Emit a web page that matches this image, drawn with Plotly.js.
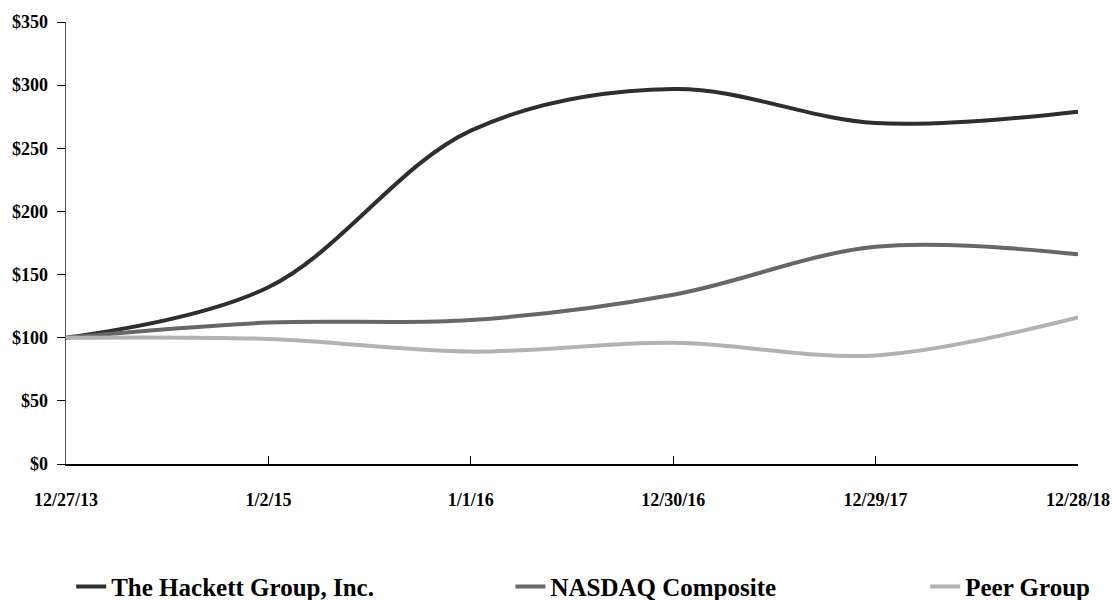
<!DOCTYPE html>
<html>
<head>
<meta charset="utf-8">
<script src="https://cdn.plot.ly/plotly-3.0.1.min.js"></script>
<style>
html,body{margin:0;padding:0;background:#fff;}
#chart{width:1112px;height:600px;}
</style>
</head>
<body>
<div id="chart"></div>
<script>
const dates = ["12/27/13", "1/2/15", "1/1/16", "12/30/16", "12/29/17", "12/28/18"];
const hackett = [100, 140, 264, 297, 270, 279];
const nasdaq = [100, 112, 114, 134, 172, 166];
const peer = [100, 99, 89, 96, 86, 116];
const seriesNames = ["The Hackett Group, Inc.", "NASDAQ Composite", "Peer Group"];
const yTicks = [0, 50, 100, 150, 200, 250, 300, 350];
const yTickLabels = ["$0", "$50", "$100", "$150", "$200", "$250", "$300", "$350"];

const FONT = "Liberation Serif, Times New Roman, serif";

function line(y, name, color, legendId) {
  return {
    x: dates, y: y, name: name, type: "scatter", mode: "lines",
    line: {color: color, width: 4, shape: "spline", smoothing: 1},
    legend: legendId, hoverinfo: "skip"
  };
}

const traces = [
  line(hackett, seriesNames[0], "#2e2e2e", "legend"),
  line(nasdaq, seriesNames[1], "#676767", "legend2"),
  line(peer, seriesNames[2], "#b2b2b2", "legend3")
];

function leg(x) {
  return {
    orientation: "h", xref: "container", yref: "container",
    x: x, xanchor: "left", y: 0.022, yanchor: "middle",
    font: {family: FONT, size: 25, color: "#000", weight: "bold"},
    bgcolor: "rgba(0,0,0,0)", itemwidth: 30
  };
}

const layout = {
  width: 1112, height: 600,
  margin: {l: 66, r: 34, t: 22, b: 136, autoexpand: false},
  paper_bgcolor: "#fff", plot_bgcolor: "#fff",
  showlegend: true,
  font: {family: FONT, size: 18, color: "#000", weight: "bold"},
  xaxis: {
    type: "category", range: [0, dates.length - 1],
    showgrid: false, zeroline: false,
    showline: true, linecolor: "#000", linewidth: 1.5,
    ticks: "inside", ticklen: 8, tickcolor: "#000", tickwidth: 1,
    ticklabelstandoff: 19,
    tickfont: {family: FONT, size: 18, color: "#000", weight: "bold"}
  },
  yaxis: {
    range: [0, 350], tickvals: yTicks, ticktext: yTickLabels,
    showgrid: false, zeroline: false,
    showline: true, linecolor: "#555", linewidth: 1.5,
    ticks: "outside", ticklen: 8, tickcolor: "#000", tickwidth: 1,
    ticklabelstandoff: 5,
    tickfont: {family: FONT, size: 18, color: "#000", weight: "bold"}
  },
  legend: leg(0.064),
  legend2: leg(0.459),
  legend3: leg(0.832)
};

Plotly.newPlot("chart", traces, layout, {displayModeBar: false, staticPlot: true});
</script>
</body>
</html>
